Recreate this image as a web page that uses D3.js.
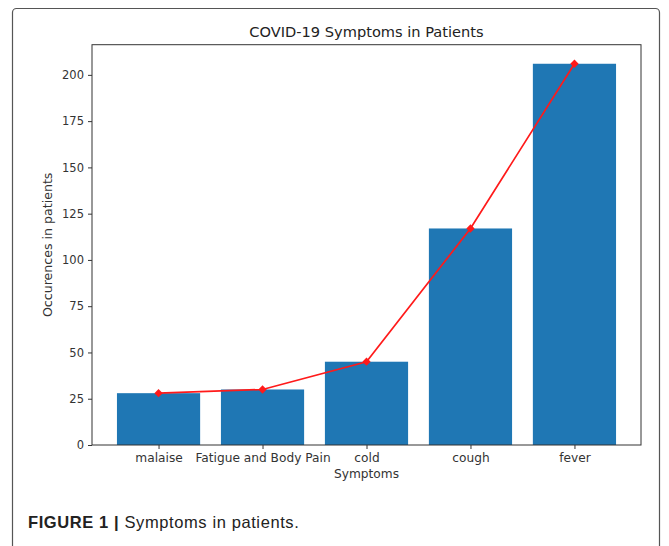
<!DOCTYPE html>
<html><head><meta charset="utf-8">
<script src="https://cdn.jsdelivr.net/npm/d3@7"></script>
<style>
html,body{margin:0;padding:0;background:#fff;}
svg{display:block;}
</style></head>
<body>
<script>
const categories = ["malaise", "Fatigue and Body Pain", "cold", "cough", "fever"];
const barValues = [28, 30, 45, 117, 206];
const lineValues = [28, 30, 45, 117, 206];
const yTicks = [0, 25, 50, 75, 100, 125, 150, 175, 200];
const titleText = "COVID-19 Symptoms in Patients";
const xLabel = "Symptoms";
const yLabel = "Occurences in patients";

const W = 669, H = 546;
const svg = d3.select("body").append("svg").attr("width", W).attr("height", H);

// outer figure frame
svg.append("rect").attr("x", 12.5).attr("y", 8.5).attr("width", 647).attr("height", 560)
  .attr("rx", 4).attr("fill", "#fff").attr("stroke", "#555").attr("stroke-width", 1.2);

const L = 92, R = 641, T = 44.7, B = 445;
const n = categories.length;
const x = d3.scaleLinear().domain([-0.64, n - 1 + 0.64]).range([L, R]);
const y = d3.scaleLinear().domain([0, d3.max(barValues) * 1.05]).range([B, T]);
const bw = 0.8;
const font = "DejaVu Sans, sans-serif";

svg.append("g").selectAll("rect").data(barValues).join("rect")
  .attr("x", (d, i) => x(i - bw / 2))
  .attr("width", (d, i) => x(i + bw / 2) - x(i - bw / 2))
  .attr("y", d => y(d))
  .attr("height", d => B - y(d))
  .attr("fill", "#1f77b4");

const line = d3.line().x((d, i) => x(i)).y(d => y(d));
svg.append("path").datum(lineValues).attr("d", line)
  .attr("fill", "none").attr("stroke", "#ff1a1a").attr("stroke-width", 1.7);
svg.append("g").selectAll("path").data(lineValues).join("path")
  .attr("d", d3.symbol().type(d3.symbolDiamond2).size(44))
  .attr("transform", (d, i) => `translate(${x(i)},${y(d)})`)
  .attr("fill", "#ff1a1a");

// axes
const yAxis = d3.axisLeft(y).tickValues(yTicks).tickSize(4).tickPadding(4);
const gy = svg.append("g").attr("transform", `translate(${L},0)`).call(yAxis);
const xAxis = d3.axisBottom(x).tickValues(d3.range(n)).tickFormat(i => categories[i]).tickSize(4).tickPadding(4);
const gx = svg.append("g").attr("transform", `translate(0,${B})`).call(xAxis);
[gx, gy].forEach(g => {
  g.select(".domain").remove();
  g.selectAll("line").attr("stroke", "#333");
  g.selectAll("text").attr("font-family", font).attr("fill", "#333");
});
gy.selectAll("text").attr("font-size", 11.5);
gx.selectAll("text").attr("font-size", 12.2);

// frame
svg.append("rect").attr("x", L).attr("y", T).attr("width", R - L).attr("height", B - T)
  .attr("fill", "none").attr("stroke", "#333").attr("stroke-width", 1);

svg.append("text").attr("x", (L + R) / 2).attr("y", 37).attr("text-anchor", "middle")
  .attr("font-family", font).attr("font-size", 14.6).attr("fill", "#222").text(titleText);
svg.append("text").attr("x", (L + R) / 2).attr("y", 478).attr("text-anchor", "middle")
  .attr("font-family", font).attr("font-size", 12.2).attr("fill", "#333").text(xLabel);
svg.append("text").attr("transform", `translate(52,${(T + B) / 2}) rotate(-90)`).attr("text-anchor", "middle")
  .attr("font-family", font).attr("font-size", 12.6).attr("fill", "#333").text(yLabel);

const cap = svg.append("text").attr("x", 28).attr("y", 528)
  .attr("font-family", "Liberation Sans, Arial, sans-serif").attr("font-size", 16.5)
  .attr("letter-spacing", 0.6).attr("fill", "#222");
cap.append("tspan").attr("font-weight", "bold").text("FIGURE 1 | ");
cap.append("tspan").text("Symptoms in patients.");
</script>
</body></html>
